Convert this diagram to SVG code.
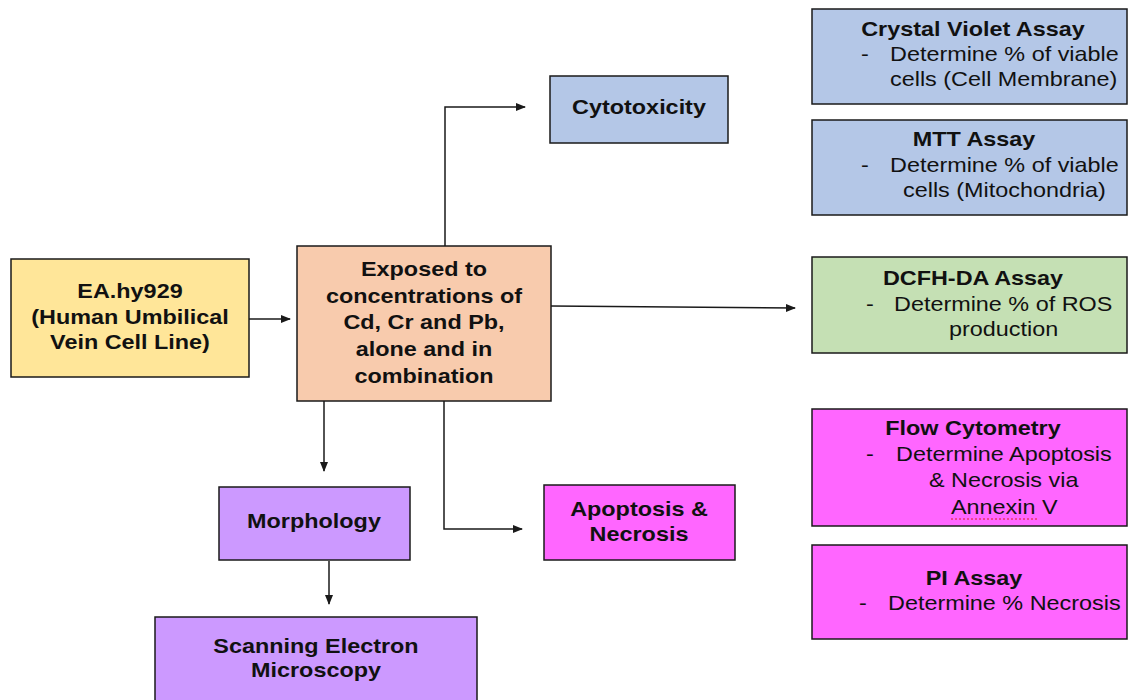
<svg xmlns="http://www.w3.org/2000/svg" width="1128" height="700" viewBox="0 0 1128 700">
<style>
.box{stroke:#1a1a1a;stroke-width:1.5}
.blue{fill:#B4C7E7}.yellow{fill:#FFE699}.orange{fill:#F8CBAD}.green{fill:#C5E0B4}.magenta{fill:#FF66FF}.purple{fill:#CC99FF}
text{font-family:"Liberation Sans",Arial,sans-serif;font-size:20px;fill:#111}
.b{font-weight:bold;text-anchor:middle}
.c{stroke:#1a1a1a;stroke-width:1.5;fill:none}
</style>
<defs>
<marker id="ah" markerWidth="10" markerHeight="10" refX="9" refY="5" orient="auto" markerUnits="userSpaceOnUse">
<path d="M0,1 L10,5 L0,9 Z" fill="#1a1a1a"/>
</marker>
</defs>
<rect width="1128" height="700" fill="#fff"/>
<g id="connectors">
<line class="c" x1="249" y1="319" x2="290" y2="319" marker-end="url(#ah)"/>
<polyline class="c" points="445,246 445,107 525,107" marker-end="url(#ah)"/>
<line class="c" x1="551" y1="306" x2="795" y2="308" marker-end="url(#ah)"/>
<line class="c" x1="324" y1="401" x2="324" y2="471" marker-end="url(#ah)"/>
<polyline class="c" points="444,401 444,529 522,529" marker-end="url(#ah)"/>
<line class="c" x1="329" y1="561" x2="329" y2="604" marker-end="url(#ah)"/>
</g>
<g id="ea">
<rect class="box yellow" x="11" y="259" width="238" height="118"/>
<text class="b" transform="translate(130,298) scale(1.17,1)">EA.hy929</text>
<text class="b" transform="translate(130,324) scale(1.17,1)">(Human Umbilical</text>
<text class="b" transform="translate(130,349) scale(1.17,1)">Vein Cell Line)</text>
</g>
<g id="exposed">
<rect class="box orange" x="297" y="246" width="254" height="155"/>
<text class="b" transform="translate(424,276) scale(1.17,1)">Exposed to</text>
<text class="b" transform="translate(424,303) scale(1.17,1)">concentrations of</text>
<text class="b" transform="translate(424,329) scale(1.17,1)">Cd, Cr and Pb,</text>
<text class="b" transform="translate(424,356) scale(1.17,1)">alone and in</text>
<text class="b" transform="translate(424,383) scale(1.17,1)">combination</text>
</g>
<g id="cytotoxicity">
<rect class="box blue" x="550" y="76" width="178" height="67"/>
<text class="b" transform="translate(639,114) scale(1.17,1)">Cytotoxicity</text>
</g>
<g id="morphology">
<rect class="box purple" x="219" y="487" width="191" height="73"/>
<text class="b" transform="translate(314,528) scale(1.17,1)">Morphology</text>
</g>
<g id="apoptosis">
<rect class="box magenta" x="544" y="485" width="191" height="75"/>
<text class="b" transform="translate(639,516) scale(1.17,1)">Apoptosis &amp;</text>
<text class="b" transform="translate(639,541) scale(1.17,1)">Necrosis</text>
</g>
<g id="sem">
<rect class="box purple" x="155" y="617" width="322" height="90"/>
<text class="b" transform="translate(316,653) scale(1.17,1)">Scanning Electron</text>
<text class="b" transform="translate(316,677) scale(1.17,1)">Microscopy</text>
</g>
<g id="crystal">
<rect class="box blue" x="812" y="9" width="315" height="95"/>
<text class="b" transform="translate(973,36) scale(1.17,1)">Crystal Violet Assay</text>
<text transform="translate(861,61) scale(1.17,1)">-</text>
<text transform="translate(890,61) scale(1.17,1)">Determine % of viable</text>
<text transform="translate(890,86) scale(1.17,1)">cells (Cell Membrane)</text>
</g>
<g id="mtt">
<rect class="box blue" x="812" y="120" width="315" height="95"/>
<text class="b" transform="translate(974,146) scale(1.17,1)">MTT Assay</text>
<text transform="translate(861,172) scale(1.17,1)">-</text>
<text transform="translate(890,172) scale(1.17,1)">Determine % of viable</text>
<text transform="translate(903,197) scale(1.17,1)">cells (Mitochondria)</text>
</g>
<g id="dcfh">
<rect class="box green" x="812" y="257" width="315" height="96"/>
<text class="b" transform="translate(973,285) scale(1.17,1)">DCFH-DA Assay</text>
<text transform="translate(866,311) scale(1.17,1)">-</text>
<text transform="translate(894,311) scale(1.17,1)">Determine % of ROS</text>
<text transform="translate(949,336) scale(1.17,1)">production</text>
</g>
<g id="flow">
<rect class="box magenta" x="812" y="409" width="315" height="117"/>
<text class="b" transform="translate(973,435) scale(1.17,1)">Flow Cytometry</text>
<text transform="translate(866,461) scale(1.17,1)">-</text>
<text transform="translate(896,461) scale(1.17,1)">Determine Apoptosis</text>
<text transform="translate(929,487) scale(1.17,1)">&amp; Necrosis via</text>
<text transform="translate(951,514) scale(1.17,1)">Annexin V</text>
<line x1="951" y1="519" x2="1038" y2="519" stroke="#e02020" stroke-width="1" stroke-dasharray="2,2"/>
</g>
<g id="pi">
<rect class="box magenta" x="812" y="545" width="315" height="94"/>
<text class="b" transform="translate(974,585) scale(1.17,1)">PI Assay</text>
<text transform="translate(859,610) scale(1.17,1)">-</text>
<text transform="translate(888,610) scale(1.17,1)">Determine % Necrosis</text>
</g>
</svg>
